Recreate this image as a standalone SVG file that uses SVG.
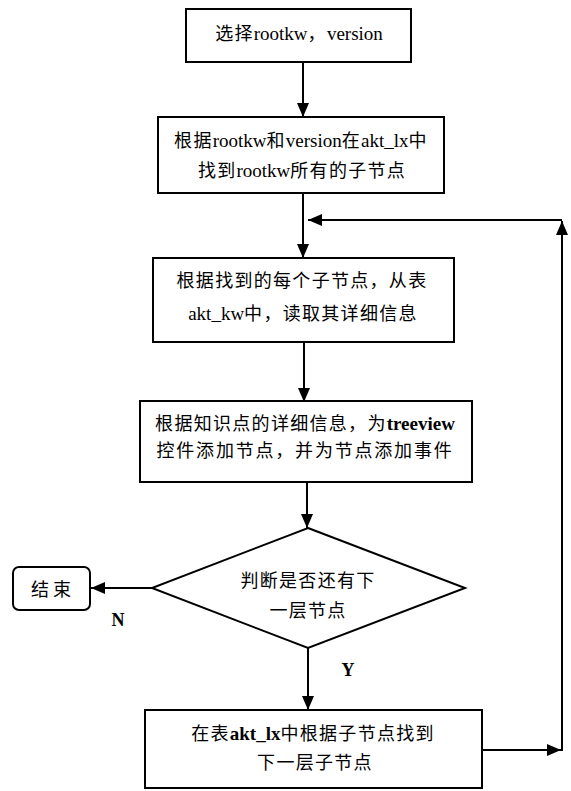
<svg xmlns="http://www.w3.org/2000/svg" width="571" height="791" viewBox="0 0 571 791">
<style>
  .box { fill: #fff; stroke: #000; stroke-width: 2; }
  .t { font-family: "Liberation Serif", "Noto Sans CJK SC", serif; font-size: 18px; letter-spacing: 1.3px; fill: #000; text-anchor: middle; }
  .la { font-family: "Liberation Serif", serif; font-size: 19px; letter-spacing: 0; }
  .lb { font-family: "Liberation Serif", serif; font-size: 19px; font-weight: bold; letter-spacing: 0; }
  .lbl { font-family: "Liberation Serif", serif; font-size: 18px; font-weight: bold; fill: #000; text-anchor: middle; }
  .c { fill: none; stroke: #000; stroke-width: 2; }
</style>
<defs>
  <marker id="ah" markerUnits="userSpaceOnUse" markerWidth="14" markerHeight="12" refX="14" refY="6" orient="auto">
    <path d="M0,0 L14,6 L0,12 Z" fill="#000"/>
  </marker>
</defs>
<rect width="571" height="791" fill="#fff"/>

<g id="connectors">
  <path class="c" d="M303,62 V117" marker-end="url(#ah)"/>
  <path class="c" d="M303,193 V258" marker-end="url(#ah)"/>
  <path class="c" d="M304,342 V402" marker-end="url(#ah)"/>
  <path class="c" d="M307,482 V528" marker-end="url(#ah)"/>
  <path class="c" d="M152,588 H91" marker-end="url(#ah)"/>
  <path class="c" d="M308,648 V710" marker-end="url(#ah)"/>
  <path class="c" d="M482,750 H561" marker-end="url(#ah)"/>
  <path class="c" d="M562,751 V221" marker-end="url(#ah)"/>
  <path class="c" d="M562,220 H308" marker-end="url(#ah)"/>
  <text class="lbl" x="118" y="626">N</text>
  <text class="lbl" x="348" y="676">Y</text>
</g>

<g id="n1">
  <rect class="box" x="186" y="9" width="225" height="53"/>
  <text class="t" x="299" y="40">选择<tspan class="la">rootkw</tspan>，<tspan class="la">version</tspan></text>
</g>

<g id="n2">
  <rect class="box" x="158" y="117" width="286" height="76"/>
  <text class="t" x="301" y="147">根据<tspan class="la">rootkw</tspan>和<tspan class="la">version</tspan>在<tspan class="la">akt_lx</tspan>中</text>
  <text class="t" x="302" y="177">找到<tspan class="la">rootkw</tspan>所有的子节点</text>
</g>

<g id="n3">
  <rect class="box" x="153" y="258" width="301" height="84"/>
  <text class="t" x="302" y="287">根据找到的每个子节点，从表</text>
  <text class="t" x="303" y="320"><tspan class="la">akt_kw</tspan>中，读取其详细信息</text>
</g>

<g id="n4">
  <rect class="box" x="140" y="401" width="332" height="81"/>
  <text class="t" x="305" y="430">根据知识点的详细信息，为<tspan class="lb">treeview</tspan></text>
  <text class="t" x="305" y="457" style="letter-spacing:1.8px">控件添加节点，并为节点添加事件</text>
</g>

<g id="n5">
  <path class="box" d="M308,528 L465,588 L308,648 L152,588 Z"/>
  <text class="t" x="308" y="587">判断是否还有下</text>
  <text class="t" x="308" y="617">一层节点</text>
</g>

<g id="n6">
  <rect class="box" x="13" y="567" width="77" height="43" rx="6"/>
  <text class="t" x="53" y="596" style="letter-spacing:4px">结束</text>
</g>

<g id="n7">
  <rect class="box" x="145" y="710" width="337" height="78"/>
  <text class="t" x="313" y="740">在表<tspan class="lb">akt_lx</tspan>中根据子节点找到</text>
  <text class="t" x="315" y="769">下一层子节点</text>
</g>
</svg>
